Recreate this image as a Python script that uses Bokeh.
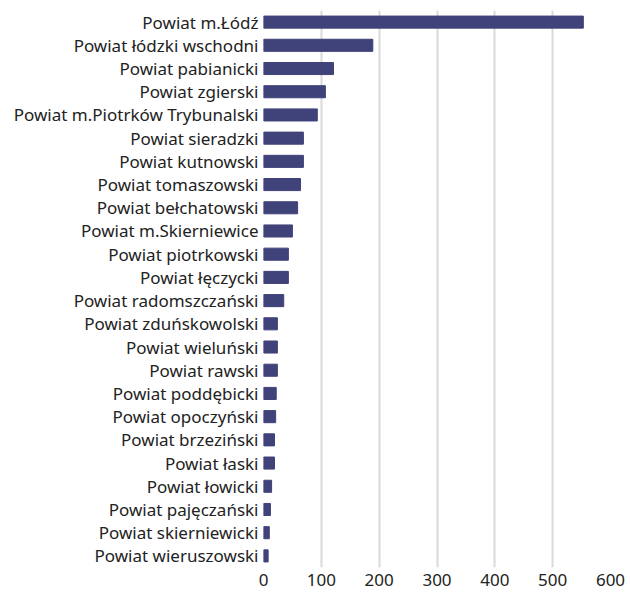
from bokeh.plotting import figure
from bokeh.models import FactorRange, Range1d, FixedTicker
from bokeh.embed import file_html
from bokeh.resources import INLINE

categories = [
    "Powiat m.Łódź", "Powiat łódzki wschodni", "Powiat pabianicki", "Powiat zgierski",
    "Powiat m.Piotrków Trybunalski", "Powiat sieradzki", "Powiat kutnowski",
    "Powiat tomaszowski", "Powiat bełchatowski", "Powiat m.Skierniewice",
    "Powiat piotrkowski", "Powiat łęczycki", "Powiat radomszczański",
    "Powiat zduńskowolski", "Powiat wieluński", "Powiat rawski", "Powiat poddębicki",
    "Powiat opoczyński", "Powiat brzeziński", "Powiat łaski", "Powiat łowicki",
    "Powiat pajęczański", "Powiat skierniewicki", "Powiat wieruszowski",
]
values = [553, 189, 121, 107, 93, 69, 69, 64, 59, 50, 43, 43, 35, 24, 24, 24, 22,
          21, 19, 19, 14, 12, 10, 8]
x_ticks = [0, 100, 200, 300, 400, 500, 600]

FONT = "Noto Sans"

p = figure(
    y_range=FactorRange(factors=categories[::-1]),
    x_range=Range1d(0, 600),
    width=630, height=592,
    output_backend="svg", toolbar_location=None,
    min_border_left=263, min_border_right=20, min_border_top=10, min_border_bottom=25,
)
p.hbar(y=categories, right=values, left=0, height=0.52, color="#40427a")

p.outline_line_color = None
p.ygrid.grid_line_color = None
p.xgrid.grid_line_color = "#d9d9d9"
p.xgrid.grid_line_width = 2
p.xaxis.ticker = FixedTicker(ticks=x_ticks)

for ax in (p.xaxis, p.yaxis):
    ax.axis_line_color = None
    ax.major_tick_line_color = None
    ax.minor_tick_line_color = None
    ax.major_tick_out = 0
    ax.major_tick_in = 0
    ax.major_label_text_font = FONT
    ax.major_label_text_font_size = "17px"
    ax.major_label_text_color = "#222222"

p.yaxis.major_label_standoff = 5
p.xaxis.major_label_standoff = 6

open("out.html", "w").write(file_html(p, INLINE))
